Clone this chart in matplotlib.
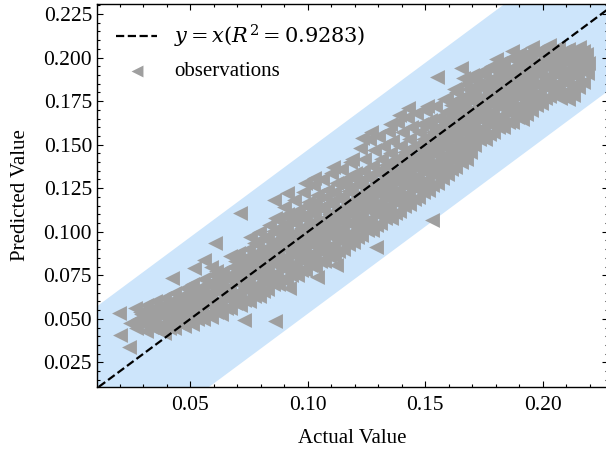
import matplotlib
matplotlib.use("Agg")
import matplotlib.pyplot as plt
from matplotlib.ticker import MultipleLocator

# observations (actual -> predicted)
actual_values = [
    0.0195, 0.0201, 0.0237, 0.0244, 0.0285,
    0.0268, 0.0275, 0.0263,
    0.0312, 0.0305, 0.0318, 0.0309,
    0.0352, 0.0346, 0.0357, 0.0349,
    0.0388, 0.0395, 0.0384, 0.0392, 0.0386,
    0.0428, 0.0434, 0.0425, 0.0437, 0.0431, 0.0421,
    0.0472, 0.0466, 0.0478, 0.0469, 0.0475,
    0.0508, 0.0515, 0.0504, 0.0512, 0.0507, 0.0514,
    0.0552, 0.0546, 0.0558, 0.0549, 0.0555, 0.0556,
    0.0588, 0.0594, 0.0585, 0.0591, 0.0597, 0.0586,
    0.0632, 0.0626, 0.0638, 0.0629, 0.0635, 0.0604,
    0.0668, 0.0674, 0.0665, 0.0671, 0.0677, 0.0669,
    0.0712, 0.0706, 0.0718, 0.0709, 0.0715, 0.0704, 0.0710,
    0.0748, 0.0754, 0.0745, 0.0751, 0.0757, 0.0746, 0.0752, 0.0726,
    0.0792, 0.0786, 0.0798, 0.0789, 0.0795, 0.0784, 0.0791,
    0.0828, 0.0834, 0.0825, 0.0831, 0.0837, 0.0826, 0.0833, 0.0855,
    0.0872, 0.0866, 0.0878, 0.0869, 0.0875, 0.0864, 0.0871, 0.0860,
    0.0908, 0.0914, 0.0905, 0.0911, 0.0917, 0.0906, 0.0913, 0.0909, 0.0918,
    0.0952, 0.0946, 0.0958, 0.0949, 0.0955, 0.0944, 0.0951,
    0.0988, 0.0994, 0.0985, 0.0991, 0.0997, 0.0986, 0.0993, 0.0989,
    0.1032, 0.1026, 0.1038, 0.1029, 0.1035, 0.1024, 0.1031, 0.1028, 0.1040,
    0.1068, 0.1074, 0.1065, 0.1071, 0.1077, 0.1066, 0.1073,
    0.1112, 0.1106, 0.1118, 0.1109, 0.1115, 0.1104, 0.1111, 0.1108, 0.1120,
    0.1148, 0.1154, 0.1145, 0.1151, 0.1157, 0.1146, 0.1153,
    0.1192, 0.1186, 0.1198, 0.1189, 0.1195, 0.1184, 0.1191, 0.1188,
    0.1228, 0.1234, 0.1225, 0.1231, 0.1237, 0.1226, 0.1233, 0.1229,
    0.1272, 0.1266, 0.1278, 0.1269, 0.1275, 0.1264, 0.1271, 0.1268, 0.1290,
    0.1308, 0.1314, 0.1305, 0.1311, 0.1317, 0.1306, 0.1313,
    0.1352, 0.1346, 0.1358, 0.1349, 0.1355, 0.1344, 0.1351, 0.1348,
    0.1388, 0.1394, 0.1385, 0.1391, 0.1397, 0.1386, 0.1393, 0.1389,
    0.1432, 0.1426, 0.1438, 0.1429, 0.1435, 0.1424, 0.1431, 0.1428,
    0.1468, 0.1474, 0.1465, 0.1471, 0.1477, 0.1466, 0.1473,
    0.1512, 0.1506, 0.1518, 0.1509, 0.1515, 0.1504, 0.1511, 0.1508, 0.1530,
    0.1548, 0.1554, 0.1545, 0.1551, 0.1557, 0.1546, 0.1553, 0.1549,
    0.1592, 0.1586, 0.1598, 0.1589, 0.1595, 0.1584, 0.1591, 0.1588,
    0.1628, 0.1634, 0.1625, 0.1631, 0.1637, 0.1626, 0.1633, 0.1629, 0.1650,
    0.1672, 0.1666, 0.1678, 0.1669, 0.1675, 0.1664, 0.1671, 0.1668,
    0.1708, 0.1714, 0.1705, 0.1711, 0.1717, 0.1706, 0.1713,
    0.1752, 0.1746, 0.1758, 0.1749, 0.1755, 0.1744, 0.1751,
    0.1788, 0.1794, 0.1785, 0.1791, 0.1797, 0.1786, 0.1793, 0.1800,
    0.1832, 0.1826, 0.1838, 0.1829, 0.1835, 0.1824, 0.1831,
    0.1868, 0.1874, 0.1865, 0.1871, 0.1877, 0.1866, 0.1873, 0.1869,
    0.1912, 0.1906, 0.1918, 0.1909, 0.1915, 0.1904, 0.1911,
    0.1948, 0.1954, 0.1945, 0.1951, 0.1957, 0.1946, 0.1953,
    0.1992, 0.1986, 0.1998, 0.1989, 0.1995, 0.1984,
    0.2028, 0.2034, 0.2025, 0.2031, 0.2037, 0.2026,
    0.2072, 0.2066, 0.2078, 0.2069, 0.2075, 0.2064,
    0.2108, 0.2114, 0.2105, 0.2111, 0.2117, 0.2106,
    0.2152, 0.2146, 0.2158, 0.2149, 0.2155,
    0.2188, 0.2194, 0.2185,
]
predicted_values = [
    0.0534, 0.0408, 0.0341, 0.0479, 0.0542,
    0.045, 0.050, 0.056,
    0.043, 0.048, 0.053, 0.058,
    0.044, 0.049, 0.055, 0.060,
    0.042, 0.047, 0.052, 0.057, 0.062,
    0.045, 0.050, 0.055, 0.060, 0.065, 0.0736,
    0.046, 0.051, 0.057, 0.062, 0.068,
    0.047, 0.053, 0.058, 0.064, 0.070, 0.0793,
    0.050, 0.056, 0.061, 0.067, 0.073, 0.0839,
    0.051, 0.057, 0.063, 0.069, 0.075, 0.080,
    0.053, 0.059, 0.065, 0.071, 0.077, 0.0937,
    0.056, 0.062, 0.068, 0.074, 0.080, 0.086,
    0.058, 0.064, 0.070, 0.076, 0.082, 0.088, 0.111,
    0.060, 0.066, 0.072, 0.078, 0.084, 0.090, 0.097, 0.0494,
    0.063, 0.069, 0.075, 0.081, 0.087, 0.093, 0.100,
    0.067, 0.073, 0.079, 0.085, 0.091, 0.097, 0.104, 0.118,
    0.070, 0.076, 0.082, 0.088, 0.094, 0.100, 0.107, 0.049,
    0.072, 0.078, 0.084, 0.090, 0.096, 0.102, 0.110, 0.122, 0.0678,
    0.075, 0.081, 0.087, 0.093, 0.099, 0.105, 0.112,
    0.078, 0.084, 0.090, 0.096, 0.102, 0.108, 0.115, 0.128,
    0.080, 0.086, 0.092, 0.098, 0.104, 0.110, 0.117, 0.131, 0.074,
    0.083, 0.089, 0.095, 0.101, 0.107, 0.113, 0.120,
    0.086, 0.092, 0.098, 0.104, 0.110, 0.116, 0.123, 0.137, 0.081,
    0.090, 0.096, 0.102, 0.108, 0.114, 0.120, 0.127,
    0.094, 0.100, 0.106, 0.112, 0.118, 0.124, 0.131, 0.142,
    0.098, 0.104, 0.110, 0.116, 0.122, 0.128, 0.135, 0.154,
    0.101, 0.107, 0.113, 0.119, 0.125, 0.131, 0.138, 0.157, 0.091,
    0.105, 0.111, 0.117, 0.123, 0.129, 0.135, 0.142,
    0.108, 0.114, 0.120, 0.126, 0.132, 0.138, 0.145, 0.162,
    0.112, 0.118, 0.124, 0.130, 0.136, 0.142, 0.149, 0.167,
    0.116, 0.122, 0.128, 0.134, 0.140, 0.146, 0.153, 0.171,
    0.120, 0.126, 0.132, 0.138, 0.144, 0.150, 0.157,
    0.124, 0.130, 0.136, 0.142, 0.148, 0.154, 0.161, 0.172, 0.107,
    0.128, 0.134, 0.140, 0.146, 0.152, 0.158, 0.165, 0.189,
    0.133, 0.139, 0.145, 0.151, 0.157, 0.163, 0.169, 0.176,
    0.137, 0.143, 0.149, 0.155, 0.161, 0.167, 0.173, 0.180, 0.194,
    0.142, 0.148, 0.154, 0.160, 0.166, 0.172, 0.178, 0.185,
    0.150, 0.156, 0.162, 0.168, 0.174, 0.180, 0.187,
    0.153, 0.159, 0.165, 0.171, 0.177, 0.183, 0.190,
    0.157, 0.163, 0.169, 0.175, 0.181, 0.187, 0.193, 0.199,
    0.160, 0.166, 0.172, 0.178, 0.184, 0.190, 0.196,
    0.163, 0.169, 0.175, 0.181, 0.187, 0.193, 0.199, 0.204,
    0.165, 0.170, 0.176, 0.182, 0.188, 0.194, 0.200,
    0.170, 0.176, 0.182, 0.188, 0.194, 0.200, 0.206,
    0.174, 0.180, 0.186, 0.192, 0.198, 0.204,
    0.178, 0.182, 0.188, 0.194, 0.200, 0.207,
    0.177, 0.183, 0.189, 0.195, 0.201, 0.206,
    0.176, 0.181, 0.187, 0.193, 0.199, 0.205,
    0.183, 0.189, 0.195, 0.201, 0.206,
    0.191, 0.197, 0.202,
]

# the dense middle of the cloud, between the columns above
core_actual = [
    0.029, 0.029,
    0.033, 0.033, 0.033,
    0.037, 0.037, 0.037,
    0.041, 0.041, 0.041, 0.041,
    0.045, 0.045, 0.045, 0.045,
    0.049, 0.049, 0.049, 0.049,
    0.053, 0.053, 0.053, 0.053,
    0.057, 0.057, 0.057, 0.057,
    0.061, 0.061, 0.061, 0.061, 0.061,
    0.065, 0.065, 0.065, 0.065,
    0.069, 0.069, 0.069, 0.069, 0.069,
    0.073, 0.073, 0.073, 0.073, 0.073,
    0.077, 0.077, 0.077, 0.077, 0.077, 0.077,
    0.081, 0.081, 0.081, 0.081, 0.081, 0.081,
    0.085, 0.085, 0.085, 0.085, 0.085, 0.085,
    0.089, 0.089, 0.089, 0.089, 0.089, 0.089,
    0.093, 0.093, 0.093, 0.093, 0.093, 0.093,
    0.097, 0.097, 0.097, 0.097, 0.097, 0.097,
    0.101, 0.101, 0.101, 0.101, 0.101, 0.101,
    0.105, 0.105, 0.105, 0.105, 0.105, 0.105,
    0.109, 0.109, 0.109, 0.109, 0.109, 0.109,
    0.113, 0.113, 0.113, 0.113, 0.113, 0.113,
    0.117, 0.117, 0.117, 0.117, 0.117, 0.117,
    0.121, 0.121, 0.121, 0.121, 0.121, 0.121,
    0.125, 0.125, 0.125, 0.125, 0.125, 0.125,
    0.129, 0.129, 0.129, 0.129, 0.129, 0.129,
    0.133, 0.133, 0.133, 0.133, 0.133, 0.133,
    0.137, 0.137, 0.137, 0.137, 0.137, 0.137,
    0.141, 0.141, 0.141, 0.141, 0.141, 0.141,
    0.145, 0.145, 0.145, 0.145, 0.145, 0.145,
    0.149, 0.149, 0.149, 0.149, 0.149, 0.149,
    0.153, 0.153, 0.153, 0.153, 0.153, 0.153,
    0.157, 0.157, 0.157, 0.157, 0.157, 0.157,
    0.161, 0.161, 0.161, 0.161, 0.161, 0.161, 0.161,
    0.165, 0.165, 0.165, 0.165, 0.165, 0.165, 0.165,
    0.169, 0.169, 0.169, 0.169, 0.169, 0.169, 0.169,
    0.173, 0.173, 0.173, 0.173, 0.173, 0.173,
    0.177, 0.177, 0.177, 0.177, 0.177, 0.177,
    0.181, 0.181, 0.181, 0.181, 0.181, 0.181, 0.181,
    0.185, 0.185, 0.185, 0.185, 0.185, 0.185,
    0.189, 0.189, 0.189, 0.189, 0.189, 0.189, 0.189,
    0.193, 0.193, 0.193, 0.193, 0.193, 0.193,
    0.197, 0.197, 0.197, 0.197, 0.197, 0.197,
    0.201, 0.201, 0.201, 0.201, 0.201,
    0.205, 0.205, 0.205, 0.205, 0.205,
    0.209, 0.209, 0.209, 0.209, 0.209,
    0.213, 0.213, 0.213, 0.213, 0.213,
    0.217, 0.217, 0.217, 0.217,
]
core_predicted = [
    0.0475, 0.053,
    0.0455, 0.0505, 0.0555,
    0.0465, 0.052, 0.0575,
    0.0445, 0.0495, 0.0545, 0.0595,
    0.0475, 0.0525, 0.0575, 0.0625,
    0.0485, 0.054, 0.0595, 0.065,
    0.050, 0.0555, 0.061, 0.067,
    0.053, 0.0585, 0.064, 0.070,
    0.054, 0.060, 0.066, 0.072, 0.0775,
    0.056, 0.062, 0.068, 0.074,
    0.059, 0.065, 0.071, 0.077, 0.083,
    0.061, 0.067, 0.073, 0.079, 0.085,
    0.063, 0.069, 0.075, 0.081, 0.087, 0.0935,
    0.066, 0.072, 0.078, 0.084, 0.090, 0.0965,
    0.070, 0.076, 0.082, 0.088, 0.094, 0.1005,
    0.073, 0.079, 0.085, 0.091, 0.097, 0.1035,
    0.075, 0.081, 0.087, 0.093, 0.099, 0.106,
    0.078, 0.084, 0.090, 0.096, 0.102, 0.1085,
    0.081, 0.087, 0.093, 0.099, 0.105, 0.1115,
    0.083, 0.089, 0.095, 0.101, 0.107, 0.1135,
    0.086, 0.092, 0.098, 0.104, 0.110, 0.1165,
    0.089, 0.095, 0.101, 0.107, 0.113, 0.1195,
    0.093, 0.099, 0.105, 0.111, 0.117, 0.1235,
    0.097, 0.103, 0.109, 0.115, 0.121, 0.1275,
    0.101, 0.107, 0.113, 0.119, 0.125, 0.1315,
    0.104, 0.110, 0.116, 0.122, 0.128, 0.1345,
    0.108, 0.114, 0.120, 0.126, 0.132, 0.1385,
    0.111, 0.117, 0.123, 0.129, 0.135, 0.1415,
    0.115, 0.121, 0.127, 0.133, 0.139, 0.1455,
    0.119, 0.125, 0.131, 0.137, 0.143, 0.1495,
    0.123, 0.129, 0.135, 0.141, 0.147, 0.1535,
    0.127, 0.133, 0.139, 0.145, 0.151, 0.1575,
    0.131, 0.137, 0.143, 0.149, 0.155, 0.1615,
    0.136, 0.142, 0.148, 0.154, 0.160, 0.166, 0.1725,
    0.140, 0.146, 0.152, 0.158, 0.164, 0.170, 0.1765,
    0.146, 0.152, 0.158, 0.164, 0.170, 0.176, 0.1815,
    0.153, 0.159, 0.165, 0.171, 0.177, 0.1835,
    0.156, 0.162, 0.168, 0.174, 0.180, 0.1865,
    0.160, 0.166, 0.172, 0.178, 0.184, 0.190, 0.196,
    0.163, 0.169, 0.175, 0.181, 0.187, 0.193,
    0.166, 0.172, 0.178, 0.184, 0.190, 0.196, 0.2015,
    0.1675, 0.173, 0.179, 0.185, 0.191, 0.197,
    0.173, 0.179, 0.185, 0.191, 0.197, 0.203,
    0.177, 0.183, 0.189, 0.195, 0.201,
    0.180, 0.185, 0.191, 0.197, 0.2035,
    0.180, 0.186, 0.192, 0.198, 0.2035,
    0.1785, 0.184, 0.190, 0.196, 0.202,
    0.186, 0.192, 0.198, 0.2035,
]

# jagged upper edge of the cloud (outer row, then the row just inside it)
fringe_actual = [
    0.086, 0.090, 0.094, 0.098, 0.102, 0.106, 0.110, 0.114, 0.118, 0.122, 0.126,
    0.130, 0.134, 0.138, 0.142, 0.146, 0.150, 0.154, 0.158, 0.162, 0.166, 0.170,
    0.174, 0.178, 0.182, 0.186, 0.190, 0.194, 0.198, 0.202, 0.206, 0.210, 0.214,
    0.088, 0.092, 0.096, 0.100, 0.104, 0.108, 0.112, 0.116, 0.120, 0.124, 0.128,
    0.132, 0.136, 0.140, 0.144, 0.148, 0.152, 0.156, 0.160, 0.164, 0.168, 0.172,
    0.176, 0.180, 0.184, 0.188, 0.192, 0.196, 0.200, 0.204, 0.208, 0.212, 0.216,
]
fringe_predicted = [
    0.108, 0.114, 0.118, 0.123, 0.127, 0.130, 0.134, 0.136, 0.140, 0.148, 0.153,
    0.155, 0.158, 0.163, 0.166, 0.168, 0.170, 0.172, 0.176, 0.182, 0.188, 0.190,
    0.192, 0.195, 0.197, 0.200, 0.202, 0.203, 0.204, 0.205, 0.205, 0.204, 0.203,
    0.102, 0.108, 0.112, 0.117, 0.121, 0.124, 0.128, 0.130, 0.134, 0.142, 0.147,
    0.149, 0.152, 0.157, 0.160, 0.162, 0.164, 0.166, 0.170, 0.176, 0.182, 0.184,
    0.186, 0.189, 0.191, 0.194, 0.196, 0.197, 0.198, 0.199, 0.199, 0.198, 0.197,
]
assert len(actual_values) == len(predicted_values)
assert len(core_actual) == len(core_predicted)
assert len(fringe_actual) == len(fringe_predicted)

r_squared = 0.9283
band_halfwidth = 0.047
x_limits = (0.0102, 0.2277)
y_limits = (0.0109, 0.2307)

plt.rcParams["font.family"] = ["Liberation Serif", "DejaVu Serif"]
plt.rcParams["mathtext.fontset"] = "dejavuserif"
plt.rcParams["font.size"] = 15

fig = plt.figure(figsize=(6.06, 4.5), dpi=100)
ax = fig.add_axes([0.160, 0.140, 0.843, 0.851])
ax.set_xlim(*x_limits)
ax.set_ylim(*y_limits)

band_x = [x_limits[0] - 0.05, x_limits[1] + 0.05]
ax.fill_between(band_x, [v - band_halfwidth for v in band_x], [v + band_halfwidth for v in band_x],
                color="#cde5fb", linewidth=0, zorder=0)
ax.axline((0, 0), slope=1, color="black", linestyle="--", linewidth=1.6, zorder=3,
          label=rf"$y=x(R^2={r_squared})$")
all_actual = actual_values + core_actual + fringe_actual
all_predicted = predicted_values + core_predicted + fringe_predicted
ax.scatter(all_actual, all_predicted, marker="<", s=115,
           color="#9f9f9f", linewidths=0, zorder=2, label="observations")

ax.xaxis.set_major_locator(MultipleLocator(0.05))
ax.xaxis.set_minor_locator(MultipleLocator(0.01))
ax.yaxis.set_major_locator(MultipleLocator(0.025))
ax.yaxis.set_minor_locator(MultipleLocator(0.005))
ax.xaxis.set_major_formatter(lambda v, _: f"{v:.2f}")
ax.yaxis.set_major_formatter(lambda v, _: f"{v:.3f}")
ax.tick_params(which="both", direction="in", top=True, right=True, width=0.8, labelsize=15.5)
ax.tick_params(which="major", length=4)
ax.tick_params(which="minor", length=2)
ax.tick_params(axis="x", which="major", pad=6.5)
for spine in ax.spines.values():
    spine.set_linewidth(1.0)

ax.set_xlabel("Actual Value", fontsize=15, labelpad=10)
ax.set_ylabel("Predicted Value", fontsize=15, labelpad=10)
ax.legend(loc="upper left", frameon=False, fontsize=15, handlelength=2.0,
          borderaxespad=0.5, labelspacing=0.55, markerscale=0.8)

fig.savefig("out.png", dpi=100)
